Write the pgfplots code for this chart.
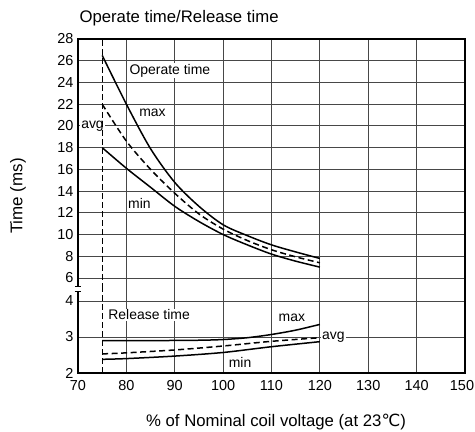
\documentclass[border=0pt]{standalone}
\usepackage{fontspec}
\setmainfont{Liberation Sans}
\newfontfamily\dejavu{DejaVu Sans}
\usepackage{pgfplots}
\pgfplotsset{compat=1.18}
\definecolor{gridc}{gray}{0.28}

\pgfplotsset{
  relaxis/.style={
    scale only axis, width=387bp, clip=false,
    xmin=70, xmax=150,
    axis line style={draw=none},
    major tick length=0pt,
    grid=major,
    grid style={gridc, line width=0.9bp},
    tick label style={font=\fontsize{14.5}{16}\selectfont},
    yticklabel style={xshift=-1bp},
    xticklabel style={yshift=-4bp},
    /pgf/number format/assume math mode=true,
  },
}
\tikzset{
  curve/.style={black, line width=1.5bp, smooth},
  avgc/.style={curve, dash pattern=on 6bp off 3.5bp},
  vline/.style={black, line width=0.9bp, dash pattern=on 6bp off 3bp},
  lab/.style={font=\fontsize{14}{16}\selectfont, inner sep=1bp},
  frame/.style={black, line width=1.3bp},
}

\begin{document}
\begin{tikzpicture}
\path[use as bounding box] (0,0) rectangle (475bp,432bp);

% upper part: operate time
\begin{axis}[relaxis,
  at={(78bp,143bp)}, anchor=south west, height=250bp,
  ymin=4.9875, ymax=28, ytick={6,8,...,28},
  xtick={80,90,...,140}, xticklabels={},
]
\node[lab, fill=white] at (axis cs:89,25.1) {Operate time};
\node[lab] at (axis cs:85.4,21.2) {max};
\node[lab, fill=white] at (axis cs:73,19.93) {avg};
\node[lab] at (axis cs:82.7,12.9) {min};
\addplot[vline, no marks] coordinates {(75,4.9875) (75,28)};
\addplot[curve, no marks] coordinates {
  (75,26.5) (80,22.0) (85,17.9) (90,14.8) (95,12.6) (100,10.9)
  (105,9.9) (110,9.05) (115,8.4) (120,7.8)};
\addplot[avgc, no marks] coordinates {
  (75,22.0) (80,18.6) (85,16.0) (90,13.8) (95,11.9) (100,10.5)
  (105,9.45) (110,8.6) (115,7.95) (120,7.4)};
\addplot[curve, no marks] coordinates {
  (75,18.0) (80,16.1) (85,14.35) (90,12.6) (95,11.2) (100,10.0)
  (105,9.05) (110,8.2) (115,7.55) (120,7.0)};
\draw[frame] (axis cs:70,5.2) -- (axis cs:70,28) -- (axis cs:150,28) -- (axis cs:150,4.9875);
\draw[frame] ([xshift=-3bp]axis cs:70,5.2) -- ([xshift=3bp]axis cs:70,5.2);
\end{axis}

% lower part: release time
\begin{axis}[relaxis,
  at={(78bp,59bp)}, anchor=south west, height=84bp,
  ymin=2, ymax=4.3333, ytick={2,3,4},
  xtick={80,90,...,140}, extra x ticks={70,150},
  extra x tick labels={70,\hspace*{-6bp}150},
  extra x tick style={grid=none},
]
\node[lab, fill=white] at (axis cs:84.7,3.62) {Release time};
\node[lab] at (axis cs:114.2,3.53) {max};
\node[lab, fill=white, anchor=west] at (axis cs:120.2,3.0) {avg};
\node[lab] at (axis cs:103.5,2.3) {min};
\addplot[vline, no marks] coordinates {(75,2) (75,4.3333)};
\addplot[curve, no marks] coordinates {
  (75,2.9) (85,2.9) (95,2.91) (100,2.93) (105,2.98) (110,3.07) (115,3.19) (120,3.35)};
\addplot[avgc, no marks] coordinates {
  (75,2.53) (80,2.56) (90,2.64) (100,2.75) (110,2.88) (120,2.98)};
\addplot[curve, no marks] coordinates {
  (75,2.38) (80,2.4) (90,2.47) (100,2.57) (110,2.73) (120,2.87)};
\draw[frame] (axis cs:70,4.26) -- (axis cs:70,2) -- (axis cs:150,2) -- (axis cs:150,4.3333);
\draw[frame] ([xshift=-3bp]axis cs:70,4.26) -- ([xshift=3bp]axis cs:70,4.26);
\end{axis}

\node[anchor=west, font=\fontsize{16.8}{18}\selectfont] at (76bp,413.5bp) {Operate time/Release time};
\node[font=\fontsize{16.8}{18}\selectfont] at (276bp,9.5bp) {\% of Nominal coil voltage (at 23{\dejavu ℃})};
\node[rotate=90, font=\fontsize{17}{18}\selectfont] at (18bp,236bp) {Time (ms)};
\end{tikzpicture}
\end{document}
